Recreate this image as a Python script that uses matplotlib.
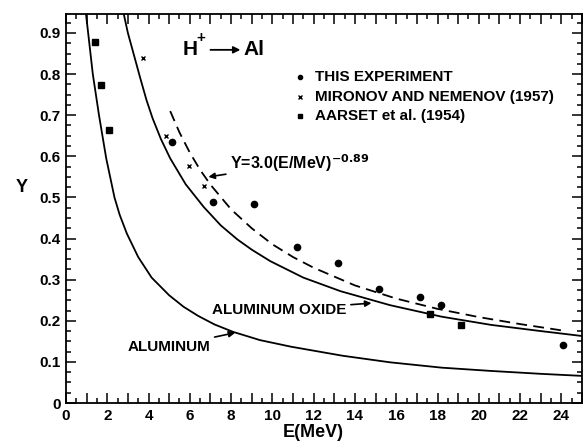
import numpy as np
import matplotlib
matplotlib.use("Agg")
from matplotlib import pyplot as plt
from matplotlib.ticker import MultipleLocator, FuncFormatter

plt.rcParams['font.family'] = ['Liberation Sans', 'DejaVu Sans']
plt.rcParams['font.weight'] = 'bold'

# calculated yield, aluminum
E_al = [0.97, 1.12, 1.3, 1.6, 1.95, 2.35, 2.6, 2.95, 3.5, 4.15, 5.0, 5.7, 6.4,
        7.2, 8.1, 9.4, 10.9, 13.4, 15.7, 18.2, 20.6, 23.0, 25.0]
Y_al = [0.946, 0.88, 0.8, 0.7, 0.595, 0.5, 0.458, 0.412, 0.355, 0.305, 0.262,
        0.234, 0.212, 0.191, 0.173, 0.153, 0.137, 0.115, 0.099, 0.086, 0.078,
        0.071, 0.066]

# calculated yield, aluminum oxide
E_ox = [2.8, 3.0, 3.3, 3.6, 3.9, 4.2, 4.6, 5.05, 5.8, 6.67, 7.5, 8.3, 9.0,
        9.9, 11.5, 13.3, 15.7, 18.2, 20.6, 23.0, 25.0]
Y_ox = [0.946, 0.9, 0.845, 0.79, 0.737, 0.692, 0.642, 0.595, 0.532, 0.477,
        0.432, 0.398, 0.373, 0.345, 0.305, 0.272, 0.238, 0.21, 0.19, 0.175,
        0.163]

# fit Y = 3.0 (E/MeV)^-0.89
E_fit = [5.05, 5.5, 6, 6.5, 7, 8, 9, 10, 11, 12, 14, 16, 18, 20, 22, 24.1]
Y_fit = [0.71, 0.658, 0.609, 0.567, 0.531, 0.471, 0.425, 0.386, 0.355, 0.329,
         0.286, 0.254, 0.229, 0.209, 0.192, 0.176]

# this experiment
E_exp = [5.13, 7.12, 9.13, 11.17, 13.17, 15.17, 17.15, 18.16, 24.06]
Y_exp = [0.636, 0.49, 0.484, 0.38, 0.34, 0.277, 0.257, 0.238, 0.141]

# Mironov and Nemenov (1957)
E_mir = [3.72, 4.85, 5.94, 6.67]
Y_mir = [0.838, 0.65, 0.577, 0.529]

# Aarset et al. (1954)
E_aar = [1.41, 1.68, 2.07, 17.64, 19.16]
Y_aar = [0.877, 0.773, 0.664, 0.216, 0.189]

fig = plt.figure(figsize=(5.88, 4.44), dpi=100)
ax = fig.add_axes([0.1122, 0.0923, 0.8776, 0.876])

ax.plot(E_al, Y_al, 'k-', lw=1.3)
ax.plot(E_ox, Y_ox, 'k-', lw=1.3)
ax.plot(E_fit, Y_fit, 'k', lw=1.3, ls=(0, (6, 3.5)))

ax.plot(E_exp, Y_exp, 'ko', ms=4.5, ls='none')
ax.plot(E_mir, Y_mir, 'kx', ms=3.5, mew=1.0, ls='none')
ax.plot(E_aar, Y_aar, 'ks', ms=4.5, ls='none')

ax.set_xlim(0, 25)
ax.set_ylim(0, 0.946)

ax.xaxis.set_major_locator(MultipleLocator(1))
ax.xaxis.set_minor_locator(MultipleLocator(0.5))
ax.xaxis.set_major_formatter(FuncFormatter(lambda v, p: '%d' % v if int(round(v)) % 2 == 0 else ''))
ax.yaxis.set_major_locator(MultipleLocator(0.1))
ax.yaxis.set_minor_locator(MultipleLocator(0.025))
ax.yaxis.set_major_formatter(FuncFormatter(lambda v, p: '0' if abs(v) < 1e-9 else '%.1f' % v))

ax.tick_params(which='both', direction='in', top=True, right=True, width=1.1,
               labelsize=11)
ax.tick_params(which='major', length=7, pad=4)
ax.tick_params(which='minor', length=3.5)
for s in ax.spines.values():
    s.set_linewidth(1.3)

ax.set_xlabel('E(MeV)', fontsize=13, fontweight='bold', va='center')
ax.xaxis.set_label_coords(0.48, -0.077)
ax.set_ylabel('Y', fontsize=13, fontweight='bold', rotation=0, va='center')
ax.yaxis.set_label_coords(-0.085, 0.555)

# reaction label
ax.text(5.63, 0.859, 'H', fontsize=15, fontweight='bold', va='center')
ax.text(6.3, 0.887, '+', fontsize=11, fontweight='bold', va='center')
ax.annotate('', xy=(8.45, 0.859), xytext=(7.0, 0.859),
            arrowprops=dict(arrowstyle='-|>', lw=1.3, color='k',
                            mutation_scale=10, shrinkA=0, shrinkB=0))
ax.text(8.6, 0.859, 'Al', fontsize=15, fontweight='bold', va='center')

# legend
leg_y = [0.794, 0.745, 0.697]
leg_x = 11.35
ax.plot(leg_x, leg_y[0], 'ko', ms=3)
ax.plot(leg_x, leg_y[1], 'kx', ms=3, mew=1.0)
ax.plot(leg_x, leg_y[2], 'ks', ms=3)
ax.text(leg_x + 0.7, leg_y[0], 'THIS EXPERIMENT', fontsize=11, va='center')
ax.text(leg_x + 0.7, leg_y[1], 'MIRONOV AND NEMENOV (1957)', fontsize=11, va='center')
ax.text(leg_x + 0.7, leg_y[2], 'AARSET et al. (1954)', fontsize=11, va='center')

arrow = dict(arrowstyle='-|>', lw=1.2, color='k', mutation_scale=9,
             shrinkA=1, shrinkB=0)
ax.annotate('Y=3.0(E/MeV)$^{\\mathbf{-0.89}}$', xy=(6.9, 0.55), xytext=(7.95, 0.584),
            fontsize=11.5, fontweight='bold', va='center', ha='left',
            arrowprops=arrow)
ax.annotate('ALUMINUM OXIDE', xy=(14.8, 0.243), xytext=(13.6, 0.226),
            fontsize=11, fontweight='bold', va='center', ha='right',
            arrowprops=arrow)
ax.annotate('ALUMINUM', xy=(8.2, 0.171), xytext=(7.0, 0.137),
            fontsize=11, fontweight='bold', va='center', ha='right',
            arrowprops=arrow)

plt.savefig('out.png', dpi=100)
